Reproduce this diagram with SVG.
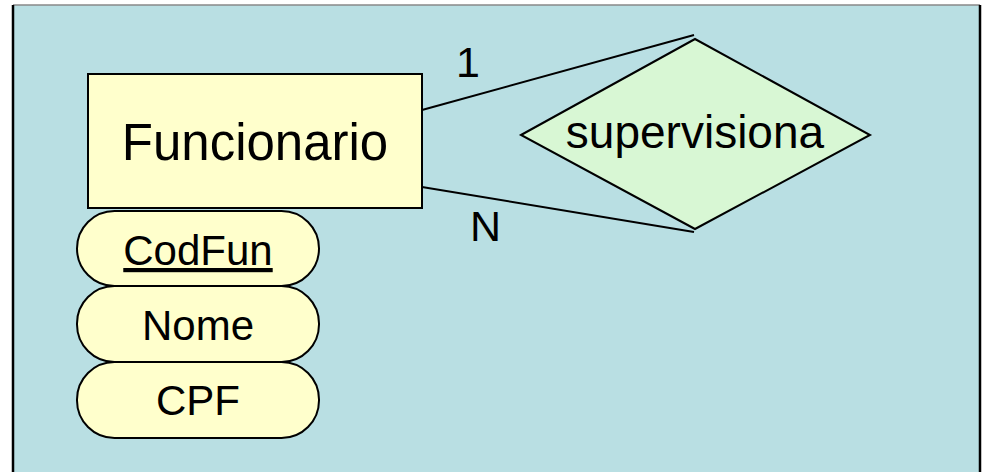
<svg xmlns="http://www.w3.org/2000/svg" width="983" height="472" viewBox="0 0 983 472">
<style>
text{font-family:"Liberation Sans",Arial,sans-serif;fill:#000}
.ent{fill:#FFFFCC;stroke:#000;stroke-width:2}
.attr{fill:#FFFFCC;stroke:#000;stroke-width:2}
.rel{fill:#D8F7D4;stroke:#000;stroke-width:2}
.conn{stroke:#000;stroke-width:2;fill:none}
</style>
<rect x="13" y="5" width="967" height="470" fill="#B9DFE3"/>
<line x1="13" y1="5" x2="980" y2="5" stroke="#888" stroke-width="1.5"/>
<line x1="13" y1="5" x2="13" y2="472" stroke="#000" stroke-width="2.5"/>
<line x1="980" y1="5" x2="980" y2="472" stroke="#000" stroke-width="2.5"/>
<g id="connectors">
<line class="conn" x1="422" y1="110" x2="694" y2="35"/>
<line class="conn" x1="422" y1="187" x2="694" y2="232"/>
<text x="456" y="77" font-size="43">1</text>
<text x="470" y="241" font-size="43">N</text>
</g>
<g id="supervisiona">
<polygon class="rel" points="521,135 695,39 870,135 695,229"/>
<text x="695" y="148" font-size="46" text-anchor="middle">supervisiona</text>
</g>
<g id="Funcionario">
<rect class="ent" x="88" y="74" width="334" height="134"/>
<text x="255" y="160" font-size="51" text-anchor="middle">Funcionario</text>
</g>
<g id="CodFun">
<rect class="attr" x="77" y="211" width="242" height="75" rx="37.5" ry="37.5"/>
<text x="198" y="265" font-size="42" text-anchor="middle" text-decoration="underline">CodFun</text>
</g>
<g id="Nome">
<rect class="attr" x="77" y="286" width="242" height="76" rx="37.5" ry="37.5"/>
<text x="198" y="340" font-size="42" text-anchor="middle">Nome</text>
</g>
<g id="CPF">
<rect class="attr" x="77" y="362" width="242" height="76" rx="37.5" ry="37.5"/>
<text x="198" y="415" font-size="42" text-anchor="middle">CPF</text>
</g>
</svg>
